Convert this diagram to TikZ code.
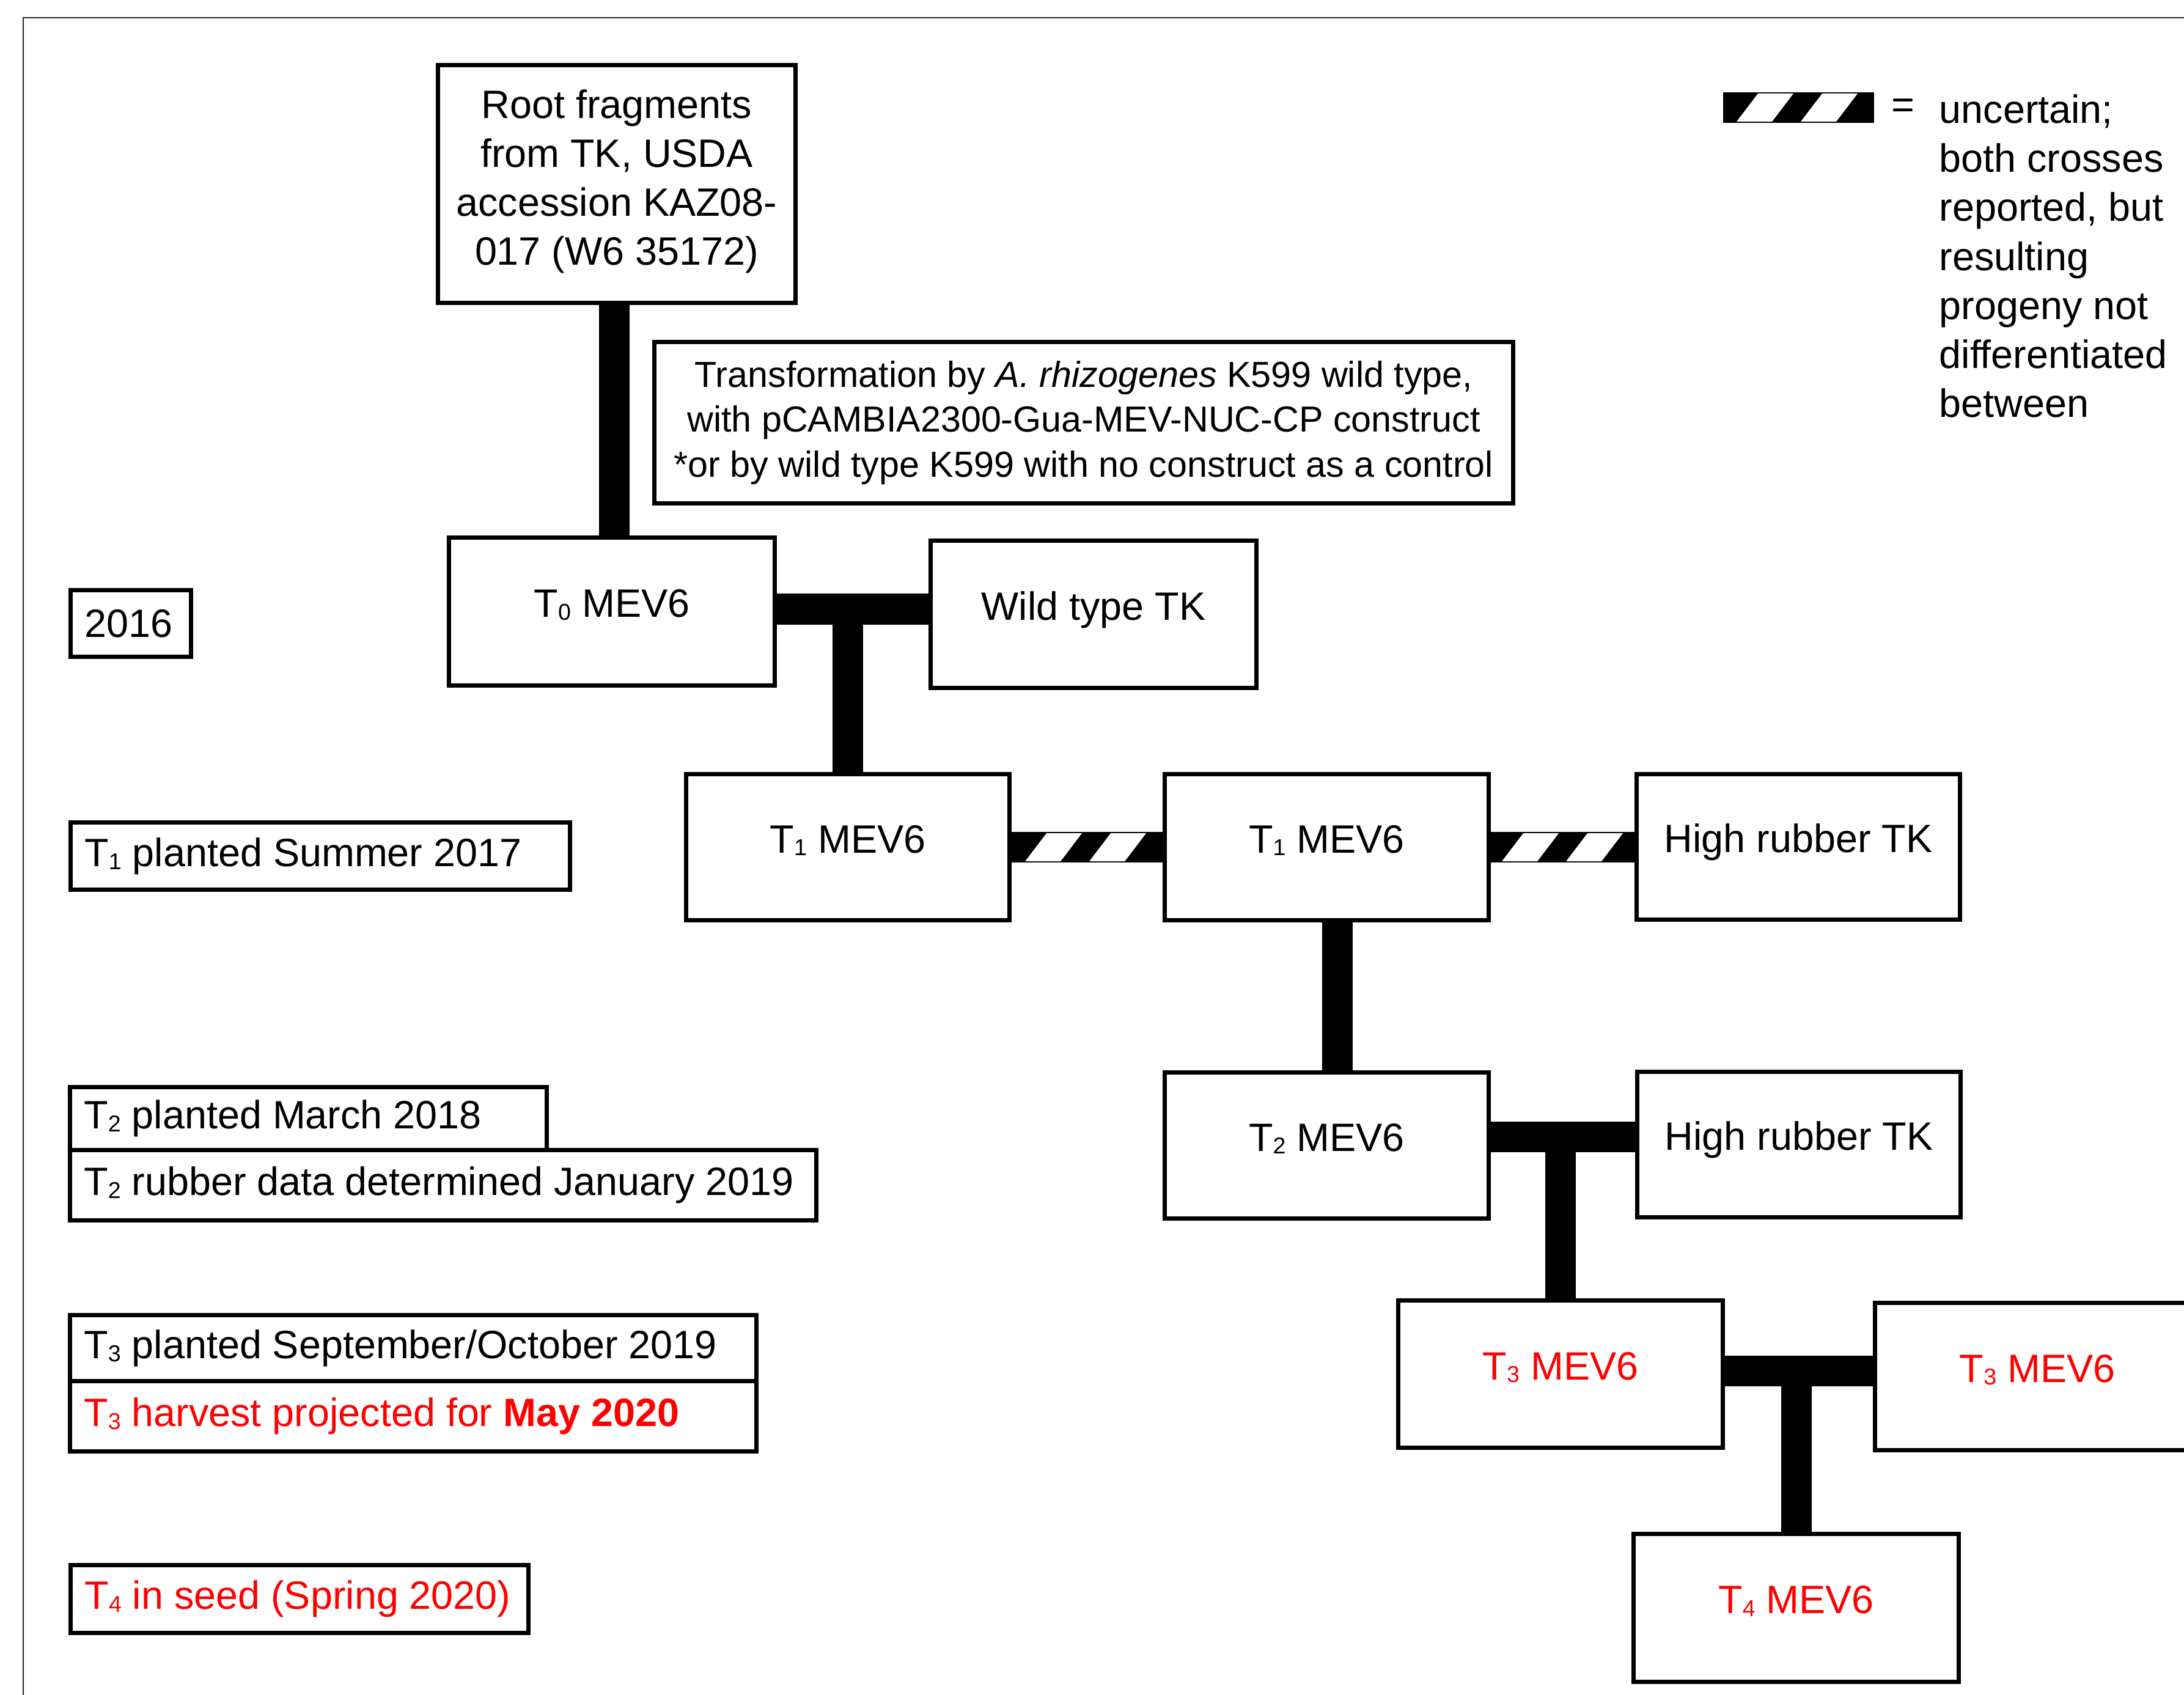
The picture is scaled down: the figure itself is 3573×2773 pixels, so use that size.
\documentclass[tikz,border=0pt]{standalone}
\usepackage{fontspec}
\setmainfont{Liberation Sans}
\usetikzlibrary{calc}
\newcommand\msz{\fontsize{18.4pt}{22.8pt}\selectfont}
\newcommand\lsz{\fontsize{18.4pt}{22.8pt}\selectfont}
\newcommand\tsz{\fontsize{16.85pt}{20.9pt}\selectfont}
\newcommand\sbs[1]{\raisebox{-1.4pt}{\fontsize{10.7pt}{10.7pt}\selectfont #1}}
\definecolor{myred}{RGB}{255,0,0}
\tikzset{
  box/.style={draw=black, line width=0.07cm, inner sep=0pt, align=center, font=\msz, fill=white},
  mev/.style={text height=0.47cm, text depth=0.29cm},
  lbltext/.style={anchor=west, inner sep=0pt, font=\lsz},
  bar/.style={line width=0.5cm, black},
  frameline/.style={line width=0.02cm, black!85},
  redtxt/.style={text=myred},
}
\newcommand\mkbox[7][]{%
  \pgfmathsetmacro\mybw{(#4-#2-7)/100}%
  \pgfmathsetmacro\mybh{(#5-#3-7)/100}%
  \pgfmathsetmacro\mycx{(#2+#4)/2}%
  \pgfmathsetmacro\mycy{(#3+#5)/2}%
  \node[box,minimum width=\mybw cm,minimum height=\mybh cm,#1] (#6) at (\mycx,\mycy) {#7};}
\newcommand\mklbl[7][]{%
  \mkbox{#2}{#3}{#4}{#5}{#6}{}%
  \node[lbltext,#1] (#6-t) at ($(#6.west)+(26,0)$) {#7};}
\newcommand\stripes[2]{%
  \foreach \o in {#2,#2+105}{%
    \fill[white] ($(#1)+(\o,23)$) -- ($(#1)+(\o+58,23)$) -- ($(#1)+(\o+93,-23)$) -- ($(#1)+(\o+35,-23)$) -- cycle;}}
\begin{document}
\begin{tikzpicture}[x=0.01cm,y=-0.01cm]
\useasboundingbox (0,0) rectangle (3573,2773);
\clip (0,0) rectangle (3573,2773);
\fill[white] (0,0) rectangle (3573,2773);
\draw[frameline] (38,2773) -- (38,29) -- (3573,29);

% boxes of the pedigree
\mkbox{713}{103}{1305}{499}{root}{}
\node[font=\msz, align=center, inner sep=0pt] (root-t) at ($(root.center)+(0,-4)$)
  {Root fragments\\from TK, USDA\\accession KAZ08-\\017 (W6 35172)};
\mkbox[font=\tsz]{1067}{556}{2479}{827}{trans}{Transformation by \textit{A. rhizogenes} K599 wild type,\\with pCAMBIA2300-Gua-MEV-NUC-CP construct\\*or by wild type K599 with no construct as a control}
\mkbox[mev]{731}{876}{1271}{1125}{t0}{T\sbs{0} MEV6}
\mkbox[mev]{1519}{881}{2059}{1129}{wt}{Wild type TK}
\mkbox[mev]{1119}{1263}{1655}{1509}{t1l}{T\sbs{1} MEV6}
\mkbox[mev]{1902}{1263}{2439}{1509}{t1m}{T\sbs{1} MEV6}
\mkbox[mev]{2674}{1263}{3210}{1508}{hr1}{High rubber TK}
\mkbox[mev]{1902}{1751}{2439}{1997}{t2}{T\sbs{2} MEV6}
\mkbox[mev]{2675}{1750}{3211}{1995}{hr2}{High rubber TK}
\mkbox[mev,redtxt]{2284}{2124}{2822}{2372}{t3l}{T\sbs{3} MEV6}
\mkbox[mev,redtxt]{3064}{2128}{3602}{2376}{t3r}{T\sbs{3} MEV6}
\mkbox[mev,redtxt]{2669}{2506}{3208}{2755}{t4}{T\sbs{4} MEV6}

% timeline labels
\mklbl{112}{962}{316}{1078}{y16}{2016}
\mklbl{112}{1342}{936}{1459}{t1p}{T\sbs{1} planted Summer 2017}
\mklbl{111}{1775}{898}{1885}{t2p}{T\sbs{2} planted March 2018}
\mklbl{111}{1878}{1339}{2000}{t2r}{T\sbs{2} rubber data determined January 2019}
\mklbl{111}{2148}{1241}{2263}{t3p}{T\sbs{3} planted September/October 2019}
\mklbl[redtxt]{111}{2256}{1241}{2378}{t3h}{T\sbs{3} harvest projected for \textbf{May 2020}}
\mklbl[redtxt]{112}{2557}{868}{2675}{t4s}{T\sbs{4} in seed (Spring 2020)}

% solid connectors
\draw[bar] ($(root.south)+(-4,0)$) -- ($(root.south |- t0.north)+(-4,0)$);
\coordinate (j1) at ($(t0.east)+(0,-4)$);
\draw[bar] (j1) -- (j1 -| wt.west);
\draw[bar] (j1 -| t1l.north) -- (t1l.north);
\draw[bar] ($(t1m.south)+(17,0)$) -- ($(t2.north)+(17,0)$);
\coordinate (j2) at ($(t2.east)+(0,-14)$);
\draw[bar] (j2) -- (j2 -| hr2.west);
\draw[bar] (j2 -| t3l.north) -- (t3l.north);
\coordinate (j3) at ($(t3l.east)+(0,-5)$);
\draw[bar] (j3) -- (j3 -| t3r.west);
\draw[bar] (j3 -| t4.north) -- (t4.north);

% uncertain (striped) connectors
\draw[bar] (t1l.east) -- (t1l.east -| t1m.west);
\stripes{t1l.east}{22}
\draw[bar] (t1m.east) -- (t1m.east -| hr1.west);
\stripes{t1m.east}{18}

% legend
\coordinate (lg1) at (2819,176);
\coordinate (lg2) at (3066,176);
\draw[bar] (lg1) -- (lg2);
\stripes{lg1}{22}
\node[font=\msz, inner sep=0pt] (eq) at (3113,178) {=};
\node[font=\msz, align=left, anchor=north west, inner sep=0pt] (legtxt) at (3172,154)
  {uncertain;\\both crosses\\reported, but\\resulting\\progeny not\\differentiated\\between};
\end{tikzpicture}
\end{document}
